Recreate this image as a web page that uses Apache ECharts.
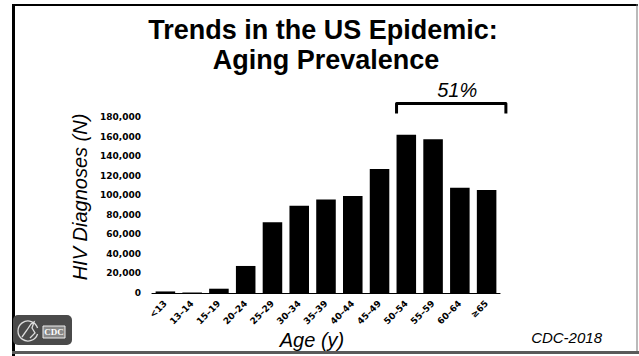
<!DOCTYPE html>
<html>
<head>
<meta charset="utf-8">
<script src="https://cdn.jsdelivr.net/npm/echarts@6/dist/echarts.min.js"></script>
<style>
  html, body { margin: 0; padding: 0; background: #fff; }
  #chart { width: 639px; height: 356px; }
</style>
</head>
<body>
<div id="chart"></div>
<script>
// Age groups and HIV diagnoses per group
const ageGroups = ['<13', '13–14', '15–19', '20–24', '25–29', '30–34', '35–39',
                   '40–44', '45–49', '50–54', '55–59', '60–64', '≥65'];
const diagnoses = [1600, 500, 4400, 27700, 72500, 89300, 95800,
                   99500, 127000, 162000, 157500, 107800, 105500];
const yTicks = { min: 0, max: 180000, step: 20000 };

const titleLines = ['Trends in the US Epidemic:', 'Aging Prevalence'];
const bracketLabel = '51%';

const chart = echarts.init(document.getElementById('chart'), null, { renderer: 'svg' });

const tickFont = { fontFamily: 'DejaVu Sans', fontWeight: 'bold', fontSize: 9, color: '#000' };

chart.setOption({
  animation: false,
  backgroundColor: '#fff',
  grid: { left: 152, right: 139, top: 117.3, bottom: 63, containLabel: false },
  xAxis: {
    type: 'category',
    data: ageGroups,
    axisLine: { show: true, lineStyle: { color: '#000', width: 1.2 } },
    axisTick: { show: false },
    axisLabel: Object.assign({ rotate: 45, margin: 9, interval: 0 }, tickFont)
  },
  yAxis: {
    type: 'value',
    min: yTicks.min,
    max: yTicks.max,
    interval: yTicks.step,
    axisLine: { show: false },
    axisTick: { show: false },
    splitLine: { show: false },
    axisLabel: Object.assign({
      margin: 11,
      formatter: v => v.toLocaleString('en-US')
    }, tickFont)
  },
  series: [{
    type: 'bar',
    data: diagnoses,
    barCategoryGap: '27%',
    itemStyle: { color: '#000' }
  }]
});

// Bracket over the older age groups, placed from the category axis
const band = chart.convertToPixel({ xAxisIndex: 0 }, ageGroups[1]) -
             chart.convertToPixel({ xAxisIndex: 0 }, ageGroups[0]);
const bx0 = chart.convertToPixel({ xAxisIndex: 0 }, '50–54') - band * 0.365;
const bx1 = chart.convertToPixel({ xAxisIndex: 0 }, '≥65') + band * 0.72;
const by = 103.5;

const italic = { fontFamily: 'Liberation Sans', fontStyle: 'italic', fill: '#000' };
const titleFont = { fontFamily: 'Liberation Sans', fontWeight: 'bold', fontSize: 27, fill: '#000',
                    align: 'center', verticalAlign: 'middle' };

chart.setOption({
  graphic: [
    // slide frame
    { type: 'rect', shape: { x: 12, y: 4, width: 626, height: 2 }, style: { fill: '#000' } },
    { type: 'rect', shape: { x: 12, y: 4, width: 3, height: 352 }, style: { fill: '#000' } },
    { type: 'rect', shape: { x: 636.5, y: 4, width: 1, height: 348 }, style: { fill: '#777' } },
    // titles
    { type: 'text', x: 323, y: 30, style: Object.assign({ text: titleLines[0] }, titleFont) },
    { type: 'text', x: 326, y: 60, style: Object.assign({ text: titleLines[1] }, titleFont) },
    // bracket and its label
    { type: 'polyline', shape: { points: [[bx0, by + 10], [bx0, by], [bx1, by], [bx1, by + 10]] },
      style: { stroke: '#000', lineWidth: 3, fill: null, lineJoin: 'round' } },
    { type: 'text', x: (bx0 + bx1) / 2 + 6, y: 90, style: Object.assign({ text: bracketLabel,
      fontSize: 20, align: 'center', verticalAlign: 'middle' }, italic) },
    // axis titles
    { type: 'text', x: 80, y: 197, rotation: Math.PI / 2, style: Object.assign({ text: 'HIV Diagnoses (N)',
      fontSize: 20, align: 'center', verticalAlign: 'middle' }, italic) },
    { type: 'text', x: 312, y: 340, style: Object.assign({ text: 'Age (y)',
      fontSize: 20, align: 'center', verticalAlign: 'middle' }, italic) },
    { type: 'text', x: 602, y: 337, style: Object.assign({ text: 'CDC-2018',
      fontSize: 15, align: 'right', verticalAlign: 'middle' }, italic) },
    // agency badge
    { type: 'rect', shape: { x: 13, y: 315, width: 59, height: 30, r: 5 }, style: { fill: '#4a4a4a' } },
    { type: 'arc', shape: { cx: 28, cy: 331, r: 10, startAngle: 0.3, endAngle: Math.PI * 2 - 0.3 },
      style: { stroke: '#ddd', lineWidth: 1.3, fill: null } },
    { type: 'polyline', shape: { points: [[22, 337], [27, 330], [31, 324], [34, 322], [32, 328], [35, 333], [30, 338]] },
      style: { stroke: '#ddd', lineWidth: 1.3, fill: null } },
    { type: 'rect', shape: { x: 43, y: 326, width: 22, height: 12 }, style: { fill: '#888', stroke: '#eee', lineWidth: 1 } },
    { type: 'text', x: 54, y: 332, style: { text: 'CDC', fontFamily: 'Liberation Serif', fontWeight: 'bold',
      fontSize: 9, fill: '#fff', align: 'center', verticalAlign: 'middle' } },
    // bottom strip
    { type: 'rect', shape: { x: 12, y: 351, width: 627, height: 3 }, style: { fill: '#5a5a5a' } }
  ]
});
</script>
</body>
</html>
